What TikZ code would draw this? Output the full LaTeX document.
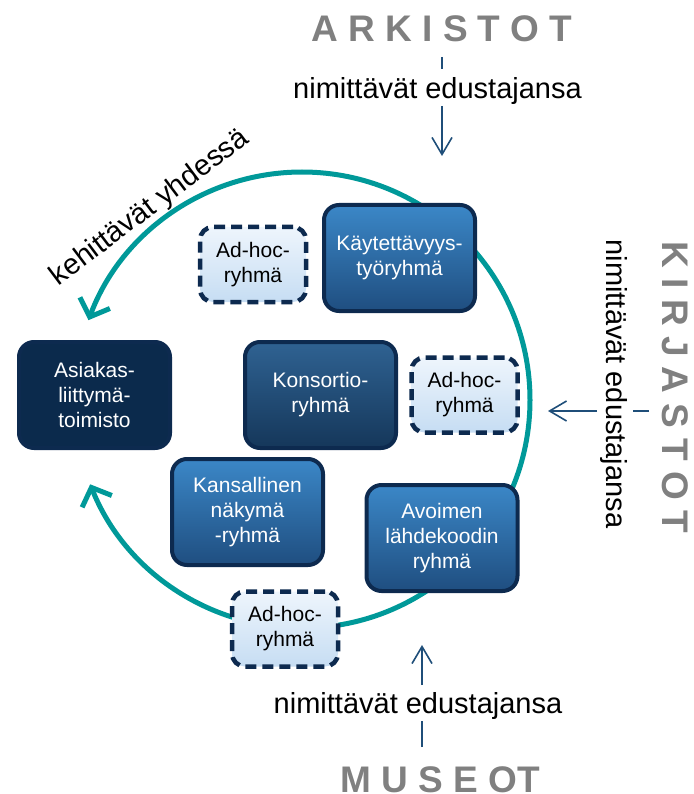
\documentclass[tikz,border=0pt]{standalone}
\usepackage{fontspec}
\setmainfont{Liberation Sans}
\usetikzlibrary{arrows.meta}
\definecolor{tealc}{HTML}{009999}
\definecolor{navy}{HTML}{0D2A4F}
\definecolor{asfill}{HTML}{0B2A4C}
\definecolor{lighttop}{HTML}{EEF5FC}
\definecolor{lightbot}{HTML}{C6DDF3}
\definecolor{midtop}{HTML}{3B87C7}
\definecolor{midbot}{HTML}{1F4E80}
\definecolor{darktop}{HTML}{2F6292}
\definecolor{darkbot}{HTML}{15375A}
\definecolor{arrowblue}{HTML}{1F4E79}
\definecolor{grayt}{HTML}{808080}
\begin{document}
\begin{tikzpicture}[x=1pt,y=-1pt,
  boxtext/.style={font=\fontsize{21}{25}\selectfont, align=center, inner sep=0pt},
  bigbox/.style={boxtext, rounded corners=15pt, line width=4pt, draw=navy, text=white,
     minimum width=151pt, minimum height=106pt},
  midbox/.style={bigbox, top color=midtop, bottom color=midbot},
  darkbox/.style={bigbox, top color=darktop, bottom color=darkbot},
  asbox/.style={bigbox, fill=asfill},
  adhoc/.style={boxtext, rounded corners=13pt, line width=4.5pt, draw=navy, text=black,
     dash pattern=on 11pt off 6pt, top color=lighttop, bottom color=lightbot,
     minimum width=106pt, minimum height=75pt},
  label/.style={font=\fontsize{29}{33}\selectfont, inner sep=0pt},
  org/.style={font=\fontsize{37}{40}\selectfont\bfseries, text=grayt, inner sep=0pt},
  tealarrow/.style={draw=tealc, line width=5pt, -{Straight Barb[length=15pt,width=32pt,line width=5pt]}},
  bluel/.style={draw=arrowblue, line width=1.6pt},
  bluearrow/.style={bluel, -{Straight Barb[length=17pt,width=20pt,line width=1.6pt]}}
]
\useasboundingbox (0,0) rectangle (693,794);

% circle arrows
\coordinate (c) at (302,400);
\draw[tealarrow] ([shift={(0:228)}]c) arc[start angle=0, end angle=-159.5, radius=228];
\draw[tealarrow] ([shift={(0:228)}]c) arc[start angle=0, end angle=158.3, radius=228];

% boxes
\node[asbox] (asiakas) at (94.5,395) {Asiakas-\\liittymä-\\toimisto};
\node[midbox] (kaytt) at (399.5,258) {Käytettävyys-\\työryhmä};
\node[darkbox] (konsortio) at (320.5,395) {Konsortio-\\ryhmä};
\node[midbox] (kansallinen) at (247.5,512) {Kansallinen\\näkymä\\-ryhmä};
\node[midbox] (avoimen) at (442,538) {Avoimen\\lähdekoodin\\ryhmä};
\node[adhoc] (adhoc1) at (253,264.5) {Ad-hoc-\\ryhmä};
\node[adhoc] (adhoc2) at (464.5,395) {Ad-hoc-\\ryhmä};
\node[adhoc] (adhoc3) at (285,629) {Ad-hoc-\\ryhmä};

% curved label
\node[label, rotate=37] (kehit) at (150,208) {kehittävät yhdessä};

% top: ARKISTOT
\node[org, anchor=base] (ark) at (442,42) {A R K I S T O T};
\node[label, anchor=base] (nimA) at (437.5,99) {nimittävät edustajansa};
\coordinate (a1) at (442,57);
\coordinate (a2) at (442,69);
\coordinate (a3) at (442,106);
\coordinate (a4) at (442,156);
\draw[bluel] (a1) -- (a2);
\draw[bluearrow] (a3) -- (a4);

% right: KIRJASTOT
\node[org, anchor=base, rotate=-90] (kir) at (662,387.5) {K I R J A S T O T};
\node[label, anchor=base, rotate=-90] (nimK) at (606,384) {nimittävät edustajansa};
\coordinate (k1) at (649,411);
\coordinate (k2) at (633,411);
\coordinate (k3) at (597,411);
\coordinate (k4) at (548,411);
\draw[bluel] (k1) -- (k2);
\draw[bluearrow] (k3) -- (k4);

% bottom: MUSEOT
\node[org, anchor=base] (mus) at (440,792) {M U S E OT};
\node[label, anchor=base] (nimM) at (418,713) {nimittävät edustajansa};
\coordinate (m1) at (422,747);
\coordinate (m2) at (422,721);
\coordinate (m3) at (422,685);
\coordinate (m4) at (422,645);
\draw[bluel] (m1) -- (m2);
\draw[bluearrow] (m3) -- (m4);
\end{tikzpicture}
\end{document}
